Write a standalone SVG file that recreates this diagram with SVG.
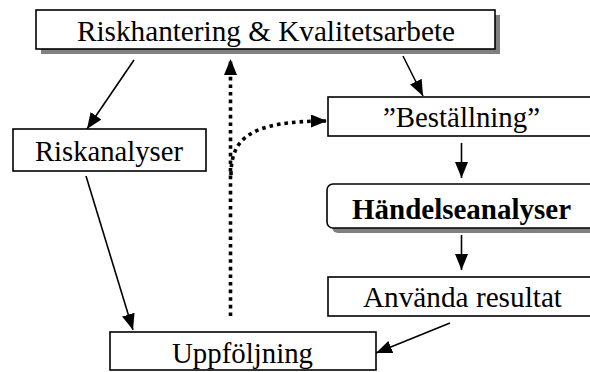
<svg xmlns="http://www.w3.org/2000/svg" width="590" height="372" viewBox="0 0 590 372">
  <style>
    .box { fill: #ffffff; stroke: #000000; stroke-width: 1.6; }
    .shadow { fill: #808080; stroke: none; }
    .label { font-family: "Liberation Serif", "Times New Roman", serif; font-size: 30px; fill: #000000; }
    .bold { font-weight: bold; }
    .edge { fill: none; stroke: #000000; stroke-width: 1.6; }
    .dotted { fill: none; stroke: #000000; stroke-width: 3.6; stroke-dasharray: 3.6 4; }
  </style>
  <defs>
    <marker id="arrow" markerUnits="userSpaceOnUse" viewBox="0 0 16 13" markerWidth="16" markerHeight="13" refX="16" refY="6.5" orient="auto">
      <path d="M0,0 L16,6.5 L0,13 z" fill="#000000"/>
    </marker>
  </defs>

  <rect width="590" height="372" fill="#ffffff"/>

  <g id="connectors">
    <line class="edge" x1="134" y1="60" x2="87" y2="129" marker-end="url(#arrow)"/>
    <line class="edge" x1="403" y1="56" x2="423" y2="96" marker-end="url(#arrow)"/>
    <line class="edge" x1="86" y1="176" x2="133" y2="330" marker-end="url(#arrow)"/>
    <line class="edge" x1="461.5" y1="143" x2="461.5" y2="178" marker-end="url(#arrow)"/>
    <line class="edge" x1="461.5" y1="235" x2="461.5" y2="270" marker-end="url(#arrow)"/>
    <line class="edge" x1="450" y1="323" x2="376" y2="353" marker-end="url(#arrow)"/>
    <line class="dotted" x1="230.5" y1="316" x2="230.5" y2="59" marker-end="url(#arrow)"/>
    <path class="dotted" d="M231,175 C231,138 250,121 327,121" marker-end="url(#arrow)"/>
  </g>

  <g id="riskhantering">
    <rect class="shadow" x="41" y="15" width="459" height="39"/>
    <rect class="box" x="36" y="10" width="459" height="39"/>
    <text class="label" x="77" y="40.5" textLength="378" lengthAdjust="spacingAndGlyphs">Riskhantering &amp; Kvalitetsarbete</text>
  </g>

  <g id="riskanalyser">
    <rect class="box" x="13" y="129" width="193" height="42"/>
    <text class="label" x="35" y="160.5" textLength="148" lengthAdjust="spacingAndGlyphs">Riskanalyser</text>
  </g>

  <g id="bestallning">
    <rect class="box" x="328" y="97" width="270" height="39"/>
    <text class="label" x="383" y="126.5" textLength="157" lengthAdjust="spacingAndGlyphs">”Beställning”</text>
  </g>

  <g id="handelseanalyser">
    <rect class="shadow" x="332" y="189" width="270" height="44" rx="6"/>
    <rect class="box" x="327" y="184" width="270" height="44" rx="6"/>
    <text class="label bold" x="352" y="219" textLength="219" lengthAdjust="spacingAndGlyphs">Händelseanalyser</text>
  </g>

  <g id="anvanda">
    <rect class="box" x="328" y="277" width="270" height="39"/>
    <text class="label" x="363" y="306.5" textLength="199" lengthAdjust="spacingAndGlyphs">Använda resultat</text>
  </g>

  <g id="uppfoljning">
    <rect class="box" x="110" y="332" width="266" height="38"/>
    <text class="label" x="172" y="362.5" textLength="141" lengthAdjust="spacingAndGlyphs">Uppföljning</text>
  </g>
</svg>
